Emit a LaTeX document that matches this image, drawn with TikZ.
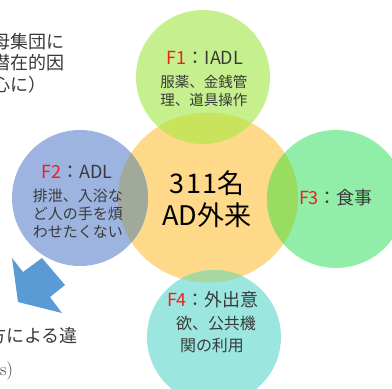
\documentclass[tikz,border=0pt]{standalone}
\usepackage{fontspec}
\newfontfamily\jp{Noto Sans CJK JP}
\definecolor{cOr}{HTML}{FFD98A}
\definecolor{cF1}{HTML}{C5F08D}
\definecolor{cF2}{HTML}{9DB4E0}
\definecolor{cF3}{HTML}{90EEA8}
\definecolor{cF4}{HTML}{9BE7E0}
\definecolor{cF1o}{HTML}{C9E45C}
\definecolor{cF2o}{HTML}{A0A99A}
\definecolor{cF3o}{HTML}{98DC60}
\definecolor{cF4o}{HTML}{A6D8A0}
\definecolor{fred}{HTML}{F01E1E}
\definecolor{txt}{HTML}{3A3A3A}
\definecolor{arrowblue}{HTML}{5B9BD5}
\begin{document}
\begin{tikzpicture}[x=1pt,y=-1pt,
  hd/.style={font=\jp\fontsize{18}{20}\selectfont, text=txt, inner sep=0pt},
  bd/.style={font=\jp\fontsize{14.5}{17}\selectfont, text=txt, inner sep=0pt},
  side/.style={font=\jp\fontsize{18}{20}\selectfont, text=txt, inner sep=0pt, anchor=west},
  ring/.style={circle, inner sep=0pt, minimum size=#1}]
\useasboundingbox (0,0) rectangle (392,389);
% base shapes
\fill[cOr] (208,197.5) ellipse [x radius=90pt, y radius=85pt];
\node[ring=134pt, fill=cF1] (f1) at (203,77) {};
\node[ring=136pt, fill=cF2] (f2) at (80,198) {};
\node[ring=138pt, fill=cF3] (f3) at (336,199) {};
\node[ring=134pt, fill=cF4] (f4) at (214,337) {};
% overlaps with the centre
\begin{scope}
  \clip (208,197.5) ellipse [x radius=90pt, y radius=85pt];
  \fill[cF1o] (f1.center) circle [radius=67pt];
  \fill[cF2o] (f2.center) circle [radius=68pt];
  \fill[cF3o] (f3.center) circle [radius=69pt];
  \fill[cF4o] (f4.center) circle [radius=67pt];
\end{scope}
% blue block arrow
\fill[arrowblue] (18,302) -- (12,258) -- (23,272) -- (42,258) -- (65,285) -- (50,297) -- (62,313) -- cycle;
% texts
\node[hd] (f1h) at (205,58) {\textcolor{fred}{F1}：IADL};
\node[bd] (f1a) at (204,82) {服薬、金銭管};
\node[bd] (f1b) at (204,100) {理、道具操作};
\node[hd] (f2h) at (77,172) {\textcolor{fred}{F2}：ADL};
\node[bd, font=\jp\fontsize{15}{17}\selectfont] (f2a) at (78,196) {排泄、入浴な};
\node[bd, font=\jp\fontsize{15}{17}\selectfont] (f2b) at (78,214) {ど人の手を煩};
\node[bd, font=\jp\fontsize{15}{17}\selectfont] (f2c) at (78,232) {わせたくない};
\node[font=\jp\fontsize{27}{30}\selectfont, text=black, inner sep=0pt] (c1) at (207,183) {3\hspace{2pt}1\hspace{2pt}1名};
\node[font=\jp\fontsize{27}{30}\selectfont, text=black, inner sep=0pt] (c2) at (207,215) {AD外来};
\node[hd] (f3h) at (336,198) {\textcolor{fred}{F3}：食事};
\node[hd] (f4h) at (213,300) {\textcolor{fred}{F4}：外出意};
\node[bd, font=\jp\fontsize{16}{18}\selectfont] (f4a) at (216,323) {欲、公共機};
\node[bd, font=\jp\fontsize{16}{18}\selectfont] (f4b) at (212,346) {関の利用};
% side texts (cut by the frame)
\node[side] (t1) at (-8,42) {母集団に};
\node[side] (t2) at (-8,63) {潜在的因};
\node[side] (t3) at (-8,85) {心に）};
\node[side] (t4) at (-12,336) {方による違};
\node[anchor=west, inner sep=0pt, font=\fontsize{18}{20}\selectfont, text=txt] (t5) at (0,371) {s)};
\end{tikzpicture}
\end{document}
